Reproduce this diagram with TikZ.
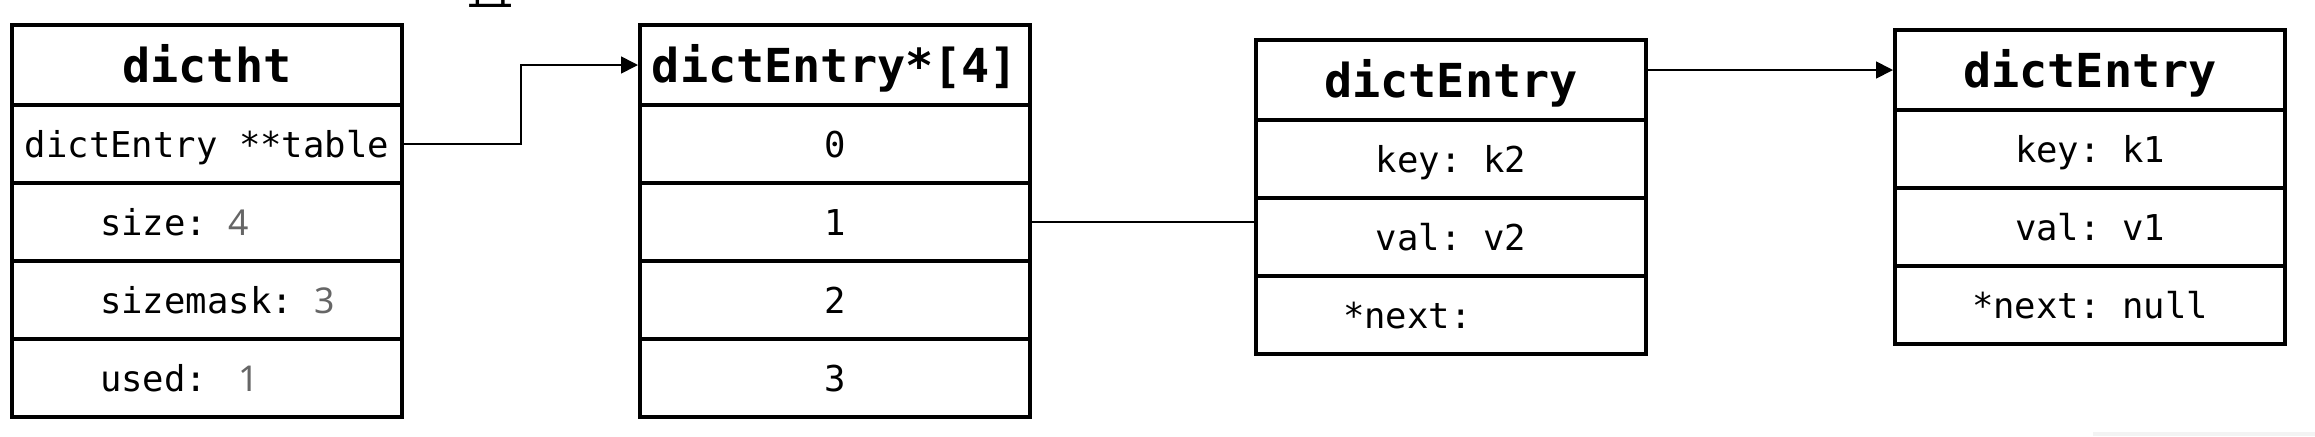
\documentclass[tikz,border=0pt]{standalone}
\usepackage{fontspec}
\setmonofont{DejaVu Sans Mono}
\newfontfamily\numfont{Noto Sans}
\newfontfamily\cjkfont{Noto Sans CJK SC}
\usetikzlibrary{arrows.meta}
\definecolor{numgray}{RGB}{102,102,102}
\definecolor{faint}{RGB}{243,243,243}
\begin{document}
\begin{tikzpicture}[x=0.5pt,y=-0.5pt,
  cell/.style={draw, line width=2pt, inner sep=0pt, outer sep=0pt, minimum width=195pt,
    minimum height=39pt, text height=13pt, text depth=0pt,
    font=\ttfamily\fontsize{17.8pt}{20pt}\selectfont, anchor=north},
  headcell/.style={cell, minimum height=40pt, text height=17pt,
    font=\ttfamily\bfseries\fontsize{23.4pt}{26pt}\selectfont, anchor=north west},
  conn/.style={line width=0.85pt},
  arr/.style={conn, -{Triangle[length=8.5pt,width=8.5pt]}}
]
\useasboundingbox (0,0) rectangle (2315,436);
\fill[faint] (2093,432) rectangle (2315,436);
\begin{scope}
\clip (0,0) rectangle (2315,436);
\node[font=\cjkfont\fontsize{23pt}{23pt}\selectfont, anchor=base west, inner sep=0pt] (zi) at (467,5) {直};
\end{scope}

% dictht
\node[headcell] (h1) at (12,25) {dictht};
\node[cell] (d1) at (h1.south) {dictEntry **table};
\node[cell] (d2) at (d1.south) {\makebox[195pt][l]{\hspace*{44pt}size: {\numfont\color{numgray}4}}};
\node[cell] (d3) at (d2.south) {\makebox[195pt][l]{\hspace*{44pt}sizemask: {\numfont\color{numgray}3}}};
\node[cell] (d4) at (d3.south) {\makebox[195pt][l]{\hspace*{44pt}used: \hspace*{5pt}{\numfont\color{numgray}1}}};

% dictEntry*[4]
\node[headcell] (h2) at (640,25) {dictEntry*[4]};
\node[cell] (a0) at (h2.south) {0};
\node[cell] (a1) at (a0.south) {1};
\node[cell] (a2) at (a1.south) {2};
\node[cell] (a3) at (a2.south) {3};

% dictEntry k2
\node[headcell] (h3) at (1256,40) {dictEntry};
\node[cell] (k2) at (h3.south) {key: k2};
\node[cell] (v2) at (k2.south) {val: v2};
\node[cell] (n2) at (v2.south) {\makebox[195pt][l]{\hspace*{43.5pt}*next:}};

% dictEntry k1
\node[headcell] (h4) at (1895,30) {dictEntry};
\node[cell] (k1) at (h4.south) {key: k1};
\node[cell] (v1) at (k1.south) {val: v1};
\node[cell] (n1) at (v1.south) {*next: null};

% connectors
\draw[arr] (d1.east) -- ++(119,0) |- ([xshift=-1pt]h2.west);
\draw[conn] (a1.east) -- (a1.east -| k2.west);
\draw[arr] (h3.east |- h4.west) -- ([xshift=-1pt]h4.west);
\end{tikzpicture}
\end{document}
